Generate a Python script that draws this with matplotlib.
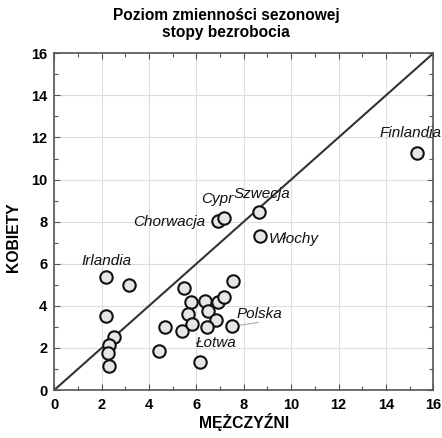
import matplotlib
matplotlib.use("Agg")
import matplotlib.pyplot as plt
from matplotlib.ticker import MultipleLocator

plt.rcParams['font.family'] = ['Liberation Sans', 'DejaVu Sans']

men = [2.19, 3.15, 2.19, 2.54, 2.33, 2.26, 2.29, 4.42, 4.68, 5.48, 5.41, 5.76, 5.65,
       5.82, 6.36, 6.48, 6.92, 7.16, 6.81, 6.43, 7.53, 7.50, 6.13, 6.89, 7.18, 8.64,
       8.69, 15.32]
women = [5.37, 4.98, 3.50, 2.50, 2.13, 1.77, 1.14, 1.85, 3.00, 4.87, 2.80, 4.19, 3.60,
         3.13, 4.23, 3.76, 4.19, 4.42, 3.35, 3.00, 5.18, 3.02, 1.35, 8.02, 8.17, 8.48,
         7.31, 11.24]

labels = ["Irlandia", "Chorwacja", "Cypr", "Szwecja", "Włochy", "Finlandia", "Polska", "Łotwa"]
label_x = [2.2, 4.85, 6.9, 8.76, 10.1, 15.02, 8.64, 6.86]
label_y = [6.13, 7.98, 9.08, 9.32, 7.18, 12.2, 3.63, 2.21]

ticks = [0, 2, 4, 6, 8, 10, 12, 14, 16]

fig = plt.figure(figsize=(4.42, 4.38), dpi=100)
ax = fig.add_axes([54.3/442, 48/438, 379/442, 336.7/438])

ax.plot([0, 16], [0, 16], color='#333333', lw=1.5, zorder=2)
ax.plot([7.78, 8.61], [3.07, 3.21], color='#aaaaaa', lw=0.8, zorder=2)
ax.scatter(men, women, s=80, facecolor='#e6e6e6', edgecolor='#111111', linewidth=1.5, zorder=3)

for t, x, y in zip(labels, label_x, label_y):
    ax.text(x, y, t, ha='center', va='center', style='italic', fontsize=11, color='#111111',
            zorder=4, clip_on=False)

ax.set_xlim(0, 16)
ax.set_ylim(0, 16)
ax.set_xticks(ticks)
ax.set_yticks(ticks)
ax.xaxis.set_minor_locator(MultipleLocator(1))
ax.yaxis.set_minor_locator(MultipleLocator(1))
ax.tick_params(which='both', direction='in', top=True, right=True, color='#555555')
ax.tick_params(which='major', length=4, width=0.8)
ax.tick_params(which='minor', length=3, width=0.8)
ax.tick_params(axis='x', which='major', pad=6)
ax.tick_params(axis='y', which='major', pad=5)
for lab in ax.get_xticklabels() + ax.get_yticklabels():
    lab.set_fontweight('bold')
    lab.set_fontsize(10.5)
ax.grid(True, which='major', color='#dddddd', lw=0.8)
ax.set_axisbelow(True)
for sp in ax.spines.values():
    sp.set_color('#555555')
    sp.set_linewidth(1.2)

ax.set_xlabel("MĘŻCZYŹNI", fontweight='bold', fontsize=11.3)
ax.set_ylabel("KOBIETY", fontweight='bold', fontsize=11.3)
ax.xaxis.set_label_coords(0.5, -0.068)
ax.yaxis.set_label_coords(-0.088, 0.455)

fig.text(226/442, 1 - 24/438, "Poziom zmienności sezonowej\nstopy bezrobocia",
         ha='center', va='center', fontweight='bold', fontsize=11.2, linespacing=1.15)

fig.savefig("out.png", dpi=100)
